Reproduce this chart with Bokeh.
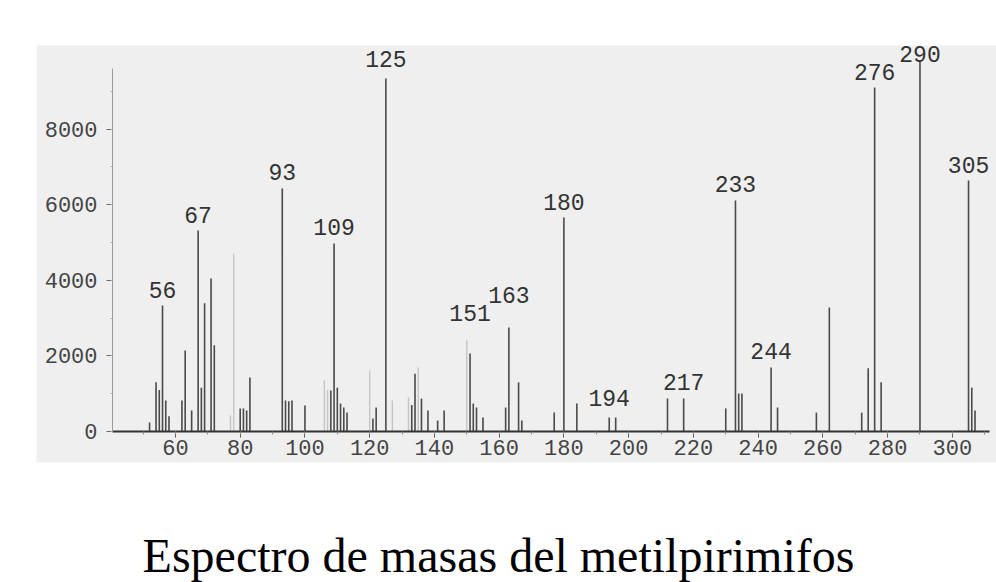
from bokeh.plotting import figure
from bokeh.models import (LinearAxis, SingleIntervalTicker, BoxAnnotation, Label,
                          Range1d, ColumnDataSource)
from bokeh.embed import file_html
from bokeh.resources import INLINE
from bokeh.core.properties import value

# ---- data (m/z, abundance) ----
masses = [52, 54, 55, 56, 57, 58, 62, 63, 65, 67, 68, 69, 71, 72, 80, 81, 82, 83,
          93, 94, 95, 96, 100, 108, 109, 110, 111, 112, 113, 121, 122, 125,
          133, 134, 136, 138, 141, 143, 151, 152, 153, 155, 162, 163, 166, 167,
          177, 180, 184, 194, 196, 212, 217, 230, 233, 234, 235, 244, 246, 258,
          262, 272, 274, 276, 278, 290, 305, 306, 307]
abundances = [240, 1300, 1100, 3333, 820, 400, 820, 2140, 555, 5317, 1160, 3390,
              4050, 2280, 610, 610, 555, 1430, 6429, 820, 800, 820, 690, 1085,
              4974, 1160, 740, 635, 500, 345, 635, 9339, 700, 1530, 870, 555,
              290, 555, 2063, 740, 635, 370, 635, 2751, 1300, 290, 500, 5661,
              740, 370, 370, 873, 873, 610, 6111, 1005, 1005, 1693, 635, 500,
              3280, 500, 1670, 9100, 1300, 9815, 6640, 1160, 555]

faint_masses = [77, 78, 106, 107, 120, 127, 132, 135, 150]
faint_abundances = [420, 4710, 1350, 1100, 1610, 820, 900, 1690, 2410]

label_masses = [56, 67, 93, 109, 125, 151, 163, 180, 194, 217, 233, 244, 276, 290, 305]
label_abundances = [3333, 5317, 6429, 4974, 9339, 2063, 2751, 5661, 370, 873,
                    6111, 1693, 9100, 9815, 6640]
label_texts = [str(m) for m in label_masses]
label_offsets = [-16, -16, -16, -16, -19, -41, -33, -16, -20, -16, -16, -16, -16, -6, -16]

title_text = "Espectro de masas del metilpirimifos"

# ---- layout constants ----
W, H = 996, 582
X_START, X_END = 5.95, 313.64
Y_START, Y_END = -3995, 11402
AXIS_X = 40.55
AXIS_X_END = 311.5
PANEL_LEFT, PANEL_TOP, PANEL_BOTTOM = 17.07, 10212, -820
TITLE_X, TITLE_Y = 159.8, -3280

p = figure(width=W, height=H, x_range=Range1d(X_START, X_END),
           y_range=Range1d(Y_START, Y_END), output_backend="svg",
           toolbar_location=None, x_axis_location=None, y_axis_location=None,
           title=None, min_border=0, outline_line_color=None,
           background_fill_color="white", border_fill_color="white")
p.grid.visible = False

p.add_layout(BoxAnnotation(left=PANEL_LEFT, top=PANEL_TOP, bottom=PANEL_BOTTOM,
                           fill_color="#efefef", fill_alpha=1.0, line_color=None,
                           level="underlay"))

xaxis = LinearAxis(fixed_location=0,
                   ticker=SingleIntervalTicker(interval=20, num_minor_ticks=2),
                   bounds=(AXIS_X, AXIS_X_END))
xaxis.axis_line_color = "#333333"
xaxis.axis_line_width = 2
xaxis.major_tick_out = 6
xaxis.major_tick_in = 0
xaxis.minor_tick_out = 3
xaxis.minor_tick_in = 0
xaxis.major_tick_line_color = "#555555"
xaxis.minor_tick_line_color = "#888888"
xaxis.major_label_standoff = 3
xaxis.major_label_text_font = "Liberation Mono"
xaxis.major_label_text_font_size = "22px"
xaxis.major_label_text_color = "#444444"
p.add_layout(xaxis, "below")

yaxis = LinearAxis(fixed_location=AXIS_X,
                   ticker=SingleIntervalTicker(interval=2000, num_minor_ticks=2),
                   bounds=(0, 9600))
yaxis.axis_line_color = "#9a9a9a"
yaxis.axis_line_width = 1
yaxis.major_tick_out = 6
yaxis.major_tick_in = 0
yaxis.minor_tick_out = 2
yaxis.minor_tick_in = 0
yaxis.major_tick_line_color = "#666666"
yaxis.minor_tick_line_color = "#aaaaaa"
yaxis.major_label_standoff = 9
yaxis.major_label_text_font = "Liberation Mono"
yaxis.major_label_text_font_size = "22px"
yaxis.major_label_text_color = "#444444"
p.add_layout(yaxis, "left")

p.segment(x0=faint_masses, y0=0, x1=faint_masses, y1=faint_abundances,
          line_color="#c4c4c4", line_width=1.4)
p.segment(x0=masses, y0=0, x1=masses, y1=abundances,
          line_color="#4a4a4a", line_width=1.6)

src = ColumnDataSource(dict(x=label_masses, y=label_abundances, t=label_texts,
                            off=label_offsets))
p.text(x="x", y="y", text="t", y_offset="off", source=src,
       text_align="center", text_baseline="alphabetic",
       text_font=value("Liberation Mono"), text_font_size="23px",
       text_color="#333333")

p.add_layout(Label(x=TITLE_X, y=TITLE_Y, text=title_text, text_align="center",
                   text_baseline="alphabetic", text_font="Liberation Serif",
                   text_font_size="48px", text_color="black"))

open("out.html", "w").write(file_html(p, INLINE))
